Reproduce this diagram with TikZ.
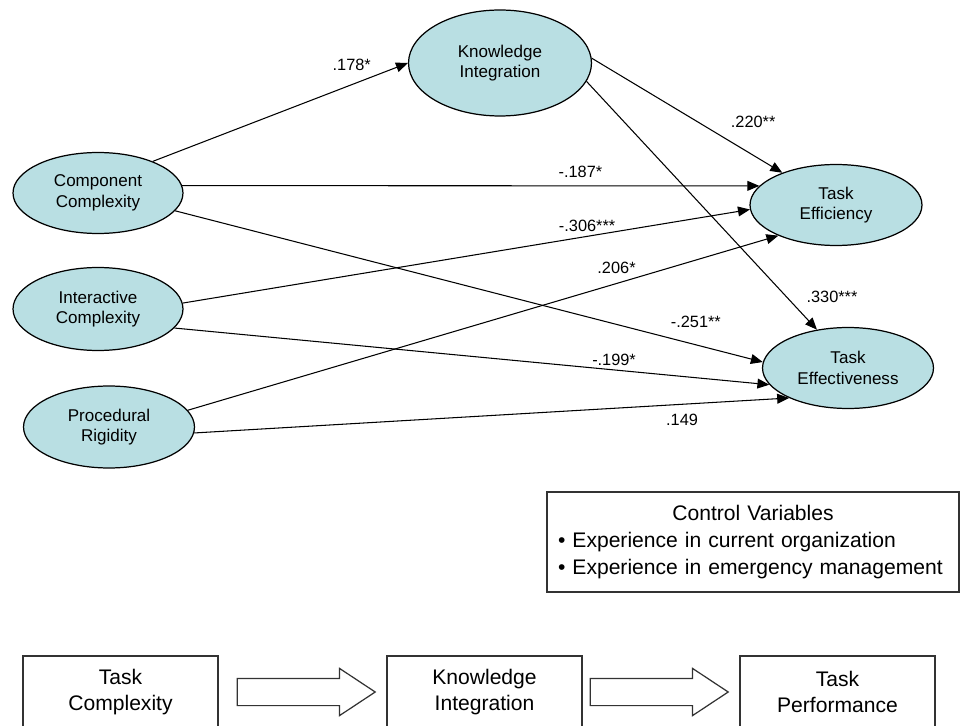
\documentclass[tikz,border=0pt]{standalone}
\usepackage{fontspec}
\setmainfont{Liberation Sans}
\usetikzlibrary{arrows.meta,positioning,shapes.geometric,shapes.arrows,calc}
\definecolor{LatentBlue}{HTML}{B9DFE3}
\definecolor{FrameGray}{HTML}{333333}

\begin{document}
\begin{tikzpicture}[
    x=0.02cm, y=-0.02cm,
    latent/.style={ellipse, draw, line width=0.7pt, fill=LatentBlue, minimum width=3.4cm, minimum height=1.62cm, inner sep=0pt, align=center, font=\fontsize{9.7}{11.8}\selectfont},
    stage/.style={rectangle, draw=FrameGray, line width=0.7pt, minimum width=3.9cm, minimum height=1.44cm, align=center, font=\fontsize{12}{15}\selectfont},
    ctrlbox/.style={rectangle, draw=FrameGray, line width=0.7pt, text width=7.8cm, inner xsep=0.22cm, minimum height=2cm, align=left, font=\fontsize{12}{15.5}\selectfont},
    fat/.style={single arrow, draw=FrameGray, line width=0.7pt, fill=white, minimum height=2.76cm, minimum width=0.92cm, single arrow head extend=0.2cm, single arrow tip angle=67, inner xsep=0pt, inner ysep=0.26cm},
    arrow/.style={-{Triangle[length=6.8pt,width=5.6pt]}, line width=0.6pt},
    coef/.style={font=\fontsize{9.3}{11}\selectfont, inner sep=0pt}
  ]
    \useasboundingbox (0,0) rectangle (960,726);

    % Task complexity dimensions
    \node[latent] (cc) at (98,193) {Component\\Complexity};
    \node[latent, minimum height=1.66cm] (ic) at (98,309) {Interactive\\Complexity};
    \node[latent, minimum width=3.42cm, minimum height=1.64cm] (pr) at (109,427) {Procedural\\Rigidity};

    % Mediator and outcomes
    \node[latent, minimum width=3.66cm, minimum height=2.12cm] (ki) at (500,63) {Knowledge\\Integration};
    \node[latent, minimum width=3.44cm] (teff) at (836,205) {Task\\Efficiency};
    \node[latent, minimum width=3.42cm] (tefv) at (848,368) {Task\\Effectiveness};

    % Path coefficients
    \draw[arrow] (cc.30) -- node[coef, pos=.78, yshift=11pt] {.178*} (ki.180);
    \draw[arrow] (cc.5) -- node[coef, pos=.69, yshift=8pt] {-.187*} (teff.166);
    \draw[arrow] (cc.-13) -- node[coef, pos=.886, yshift=13pt] {-.251**} (tefv.176);
    \draw[arrow] (ic.4) -- node[coef, pos=.713, yshift=5.7pt] {-.306***} (teff.183);
    \draw[arrow] (ic.-14) -- node[coef, pos=.739, yshift=5.7pt] {-.199*} (tefv.192);
    \draw[arrow] (pr.12) -- node[coef, pos=.726, yshift=9pt] {.206*} (teff.208);
    \draw[arrow] (pr.-4) -- node[coef, pos=.82, yshift=-9pt] {.149} (tefv.207);
    \draw[arrow] (ki.3) -- node[coef, pos=.847, yshift=18.7pt] {.220**} (teff.149);
    \draw[arrow] (ki.-12) -- node[coef, pos=.867, xshift=26pt] {.330***} (tefv.129);

    % Controls
    \node[ctrlbox] (cv) at (753,542) {%
      \makebox[\linewidth]{Control Variables}\\
      • Experience in current organization\\
      • Experience in emergency management};

    % Research model
    \node[stage] (tc) at (120.5,692) {Task\\Complexity};
    \node[stage] (kint) at (484.5,692) {Knowledge\\Integration};
    \node[stage] (tp) at (837.5,692) {Task\\Performance};
    \node[fat, right=0.36cm of tc] (ar1) {};
    \node[fat, right=0.14cm of kint] (ar2) {};
\end{tikzpicture}
\end{document}
